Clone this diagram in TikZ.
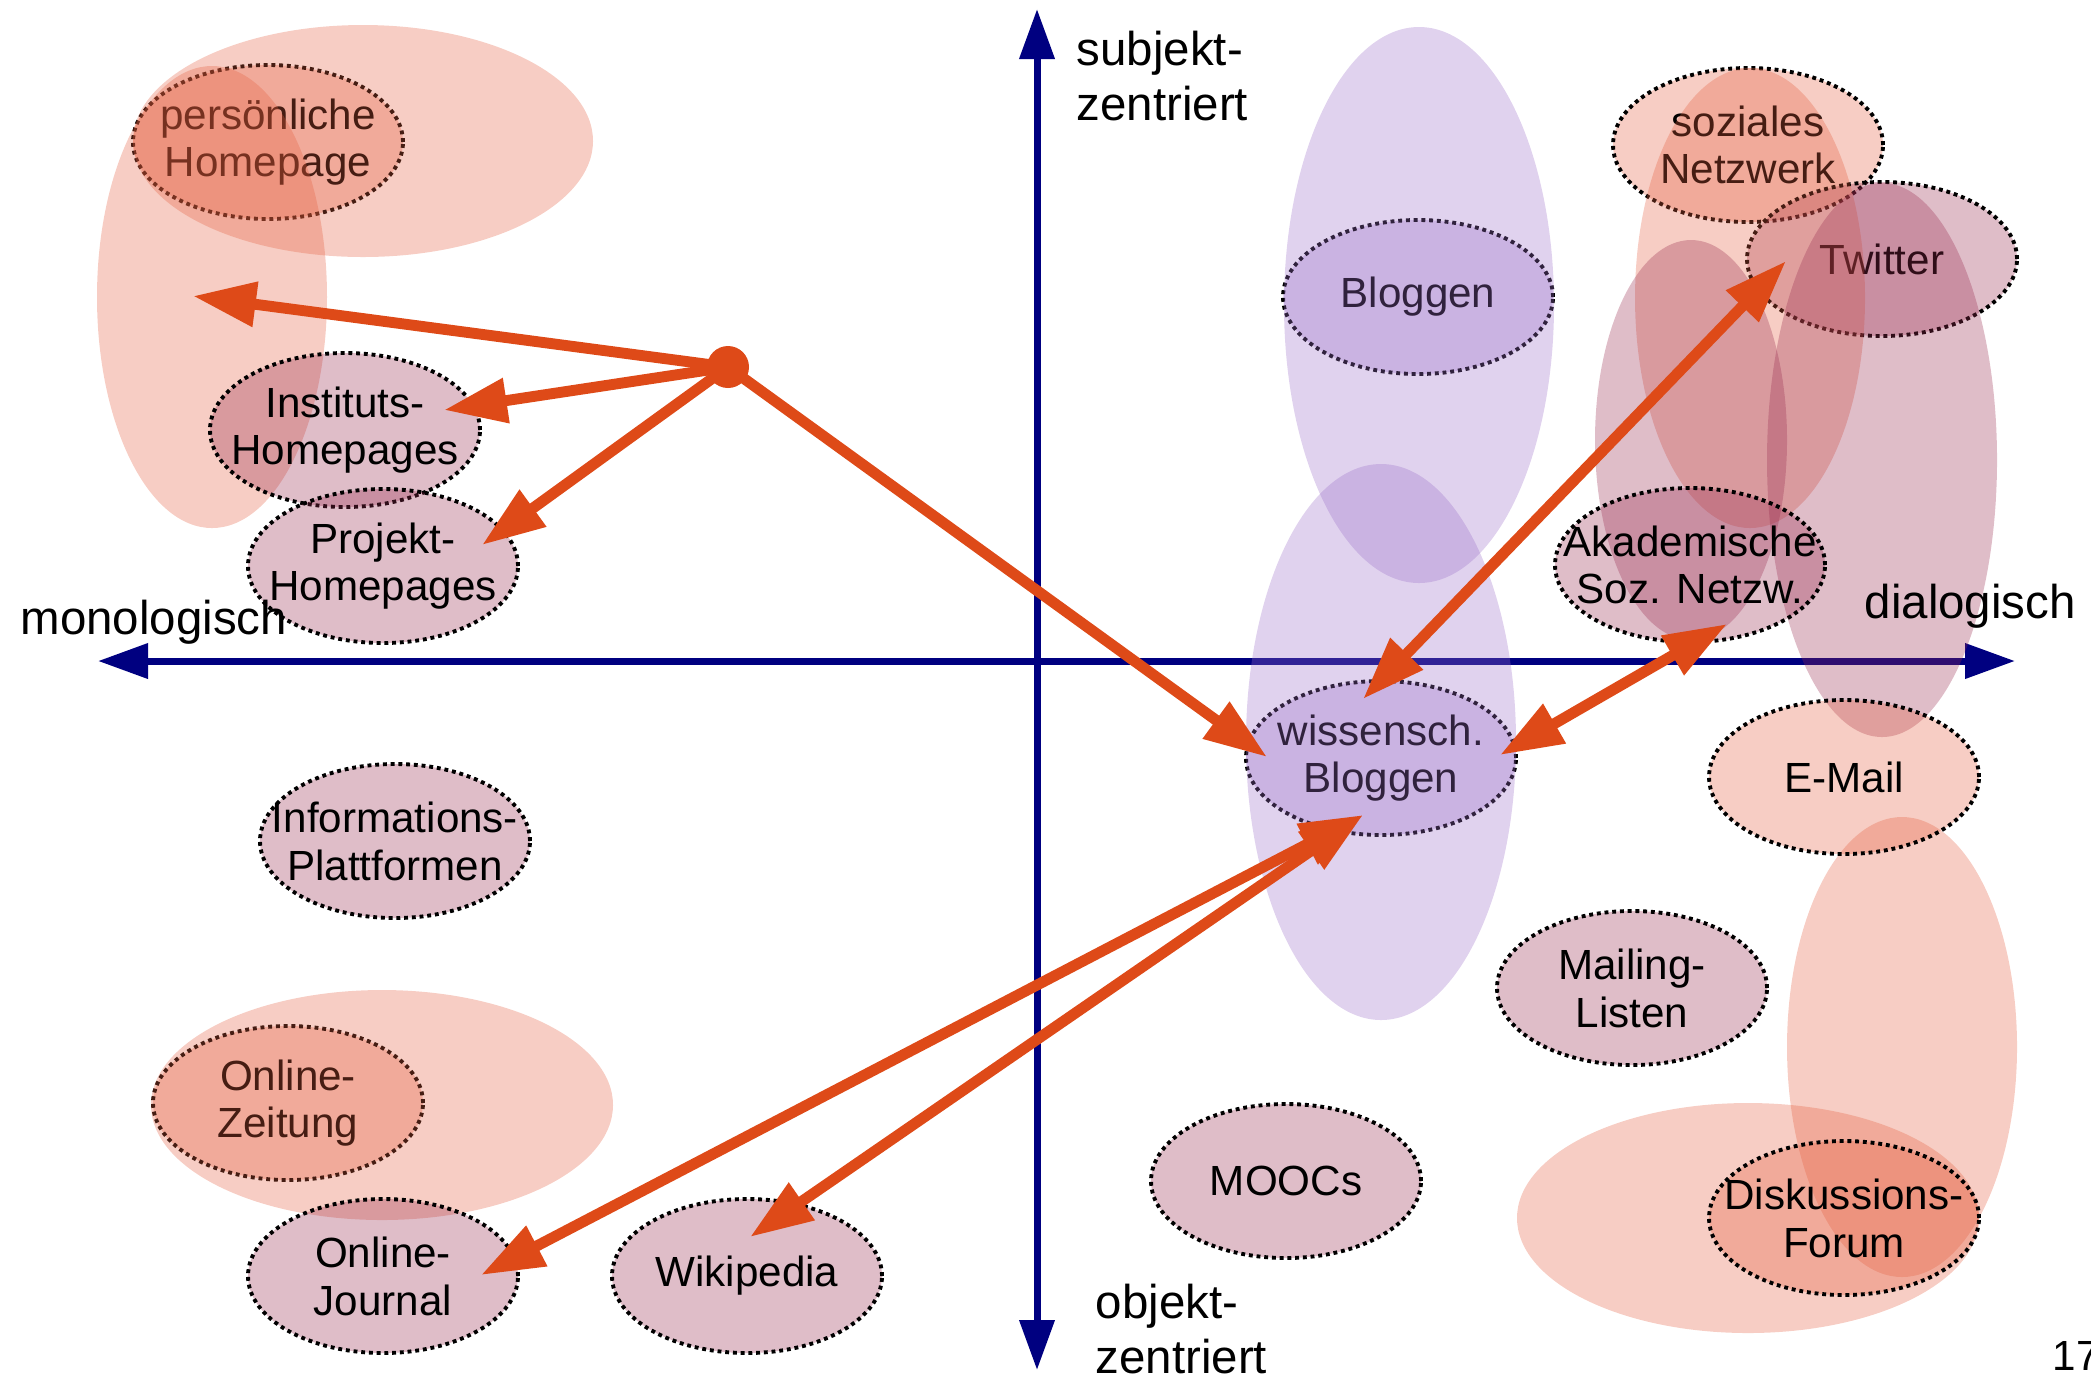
\documentclass[tikz,border=0pt]{standalone}
\usepackage{fontspec}
\setmainfont{Liberation Sans}
\usetikzlibrary{shapes.geometric, arrows.meta, calc}
\definecolor{Salmon}{HTML}{E45E3F}
\definecolor{Lilac}{HTML}{9B6EC8}
\definecolor{Mauve}{HTML}{982A4E}
\definecolor{Rust}{HTML}{DE4A18}
\definecolor{DeepBlue}{HTML}{000080}

\begin{document}
\begin{tikzpicture}[
    box/.style={ellipse, draw=black, line width=1.1pt, dash pattern=on 1.1pt off 1.1pt,
                minimum width=2.7cm, minimum height=1.54cm, inner xsep=-1cm, inner ysep=0pt,
                align=center, fill opacity=0.31, text opacity=1,
                font=\fontsize{12}{13.6}\selectfont},
    mbox/.style={box, fill=Mauve},
    sbox/.style={box, fill=Salmon},
    lbox/.style={box, fill=Lilac},
    blob/.style={opacity=0.31},
    arr/.style={Rust, line width=3.1pt, -{Triangle[length=6.3mm, width=4.3mm]}},
    dbl/.style={arr, {Triangle[length=6.3mm, width=4.3mm]}-{Triangle[length=6.3mm, width=4.3mm]}},
    axis/.style={DeepBlue, line width=2pt, {Triangle[length=5mm, width=3.4mm]}-{Triangle[length=5mm, width=3.4mm]}},
    lab/.style={inner sep=0pt, align=left, font=\fontsize{13.5}{15.8}\selectfont}
]
    \useasboundingbox (0,0) rectangle (20.91,-13.76);

    % Axes
    \coordinate (xl) at (0.98,-6.61);
    \coordinate (xr) at (20.15,-6.61);
    \coordinate (yt) at (10.37,-0.09);
    \coordinate (yb) at (10.37,-13.70);
    \draw[axis] (xl) -- (xr);
    \draw[axis] (yt) -- (yb);

    % Tools lying under the groups
    \node[sbox] (pers) at (2.68,-1.42) {persönliche\\Homepage};
    \node[sbox] (sozial) at (17.48,-1.45) {soziales\\Netzwerk};
    \node[mbox] (twit) at (18.82,-2.59) {Twitter};
    \node[lbox] (blog) at (14.18,-2.97) {Bloggen};
    \node[lbox] (wiss) at (13.81,-7.58) {wissensch.\\Bloggen};
    \node[sbox] (zeit) at (2.88,-11.03) {Online-\\Zeitung};

    % Groups
    \fill[blob, Salmon] (3.63,-1.41) ellipse (2.30 and 1.16);
    \fill[blob, Salmon] (2.12,-2.97) ellipse (1.15 and 2.31);
    \fill[blob, Salmon] (3.82,-11.05) ellipse (2.31 and 1.15);
    \fill[blob, Lilac] (14.19,-3.05) ellipse (1.35 and 2.78);
    \fill[blob, Lilac] (13.81,-7.42) ellipse (1.35 and 2.78);
    \fill[blob, Salmon] (17.50,-2.98) ellipse (1.15 and 2.30);
    \fill[blob, Mauve] (16.91,-4.40) ellipse (0.96 and 2.00);
    \fill[blob, Mauve] (18.82,-4.60) ellipse (1.15 and 2.77);
    \fill[blob, Salmon] (19.02,-10.47) ellipse (1.15 and 2.30);
    \fill[blob, Salmon] (17.48,-12.18) ellipse (2.31 and 1.15);

    % Tools on top
    \node[mbox] (inst) at (3.45,-4.30) {Instituts-\\Homepages};
    \node[mbox] (proj) at (3.83,-5.66) {Projekt-\\Homepages};
    \node[mbox] (info) at (3.95,-8.41) {Informations-\\Plattformen};
    \node[mbox] (journ) at (3.83,-12.76) {Online-\\Journal};
    \node[mbox] (wiki) at (7.47,-12.76) {Wikipedia};
    \node[mbox] (mooc) at (12.86,-11.81) {MOOCs};
    \node[mbox] (mail) at (16.32,-9.88) {Mailing-\\Listen};
    \node[mbox] (akad) at (16.90,-5.65) {Akademische\\Soz. Netzw.};
    \node[sbox] (email) at (18.44,-7.77) {E-Mail};
    \node[sbox] (forum) at (18.44,-12.18) {Diskussions-\\Forum};

    % Axis labels
    \node[lab, anchor=base west] (mono) at (0.20,-6.34) {monologisch};
    \node[lab, anchor=base west] (dia) at (18.64,-6.18) {dialogisch};
    \node[lab, anchor=north west] (subj) at (10.76,-0.30) {subjekt-\\zentriert};
    \node[lab, anchor=north west] (obj) at (10.95,-12.83) {objekt-\\zentriert};
    \node[lab, anchor=base west, font=\fontsize{12}{14}\selectfont] (page) at (20.52,-13.70) {17};

    % Arrows
    \node[circle, fill=Rust, minimum size=0.42cm, inner sep=0pt] (hub) at (7.28,-3.67) {};
    \coordinate (hp) at (1.93,-2.96);
    \draw[arr] (hub.center) -- (hp);
    \draw[arr] (hub.center) -- ($(inst)+(0.99,0.20)$);
    \draw[arr] (hub.center) -- ($(proj)+(0.99,0.21)$);
    \draw[arr] (hub.center) -- ($(wiss)+(-1.14,0.01)$);
    \draw[dbl] ($(wiss)+(-0.18,0.59)$) -- ($(twit)+(-0.96,-0.02)$);
    \draw[dbl] ($(wiss)+(1.19,0.03)$) -- ($(akad)+(0.37,-0.59)$);
    \draw[dbl] ($(journ)+(0.98,0.01)$) -- ($(wiss)+(-0.18,-0.57)$);
    \draw[dbl] ($(wiki)+(0.03,0.39)$) -- ($(wiss)+(-0.18,-0.57)$);
\end{tikzpicture}
\end{document}
